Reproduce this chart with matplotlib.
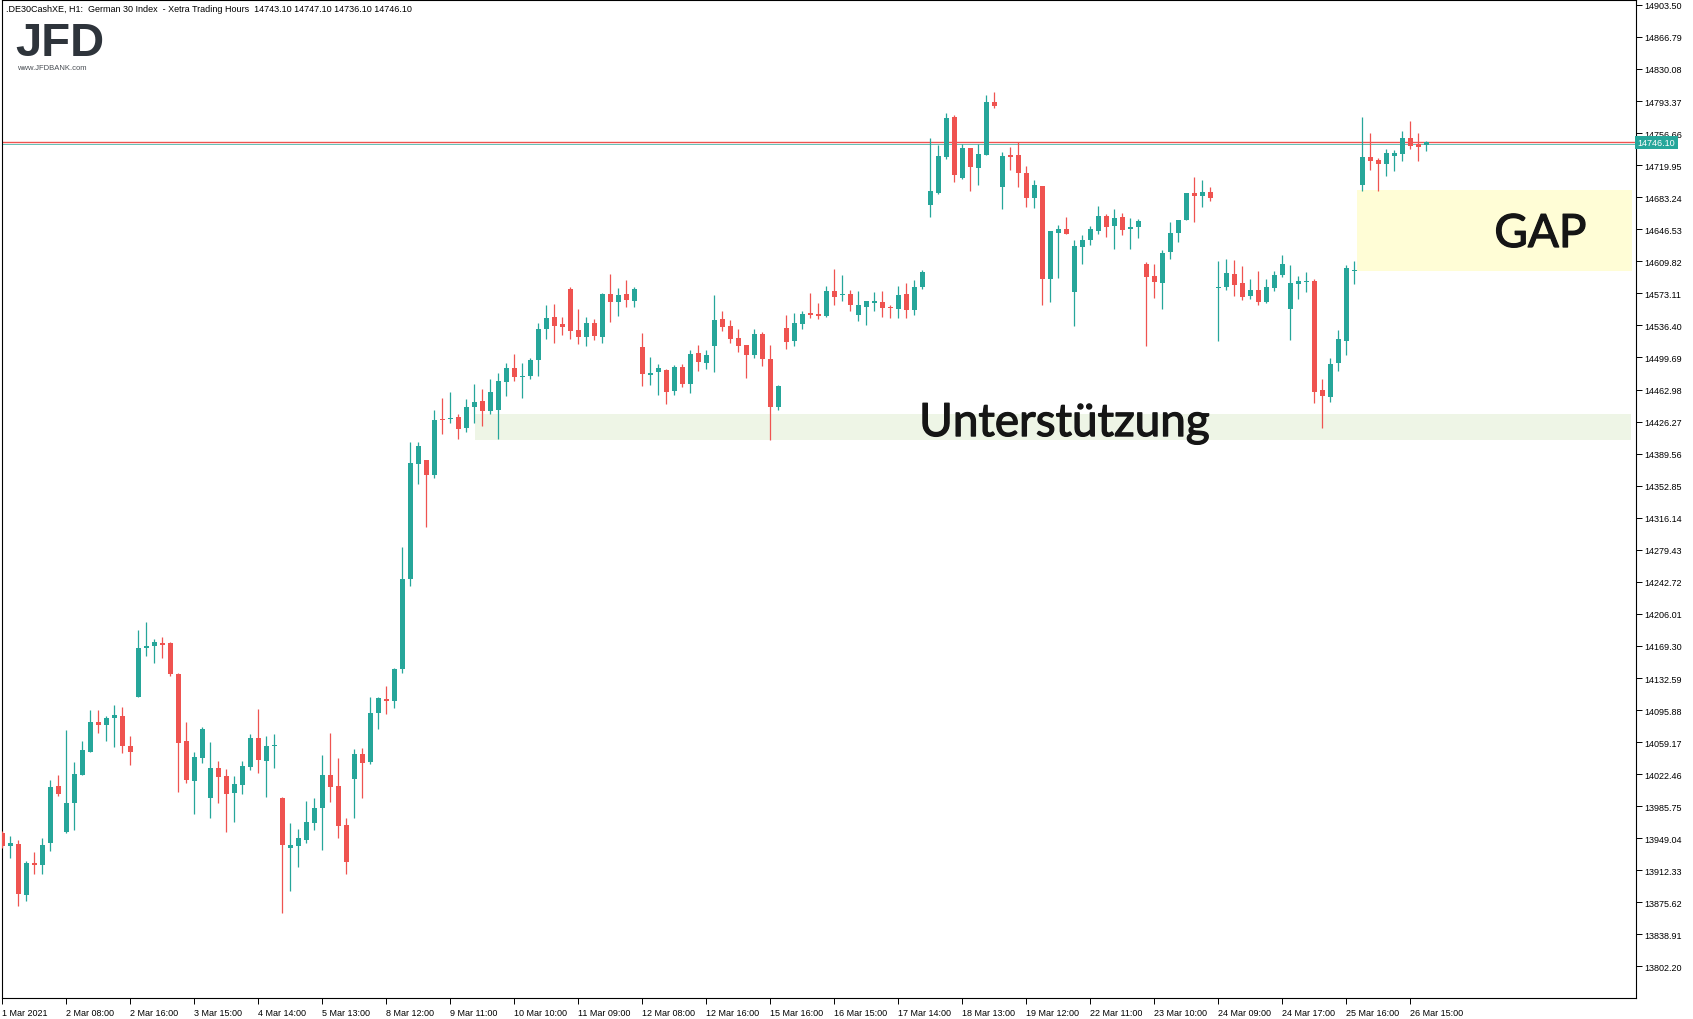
import matplotlib
matplotlib.use("Agg")
from matplotlib import pyplot as plt
from matplotlib import transforms
from matplotlib import patheffects
from matplotlib.patches import Rectangle
import numpy as np

plt.rcParams["font.family"] = ["Liberation Sans", "DejaVu Sans"]

# hourly candles, DE30 1 Mar - 26 Mar 2021
opens = [13955.1, 13940.6, 13942.5, 13884.5, 13920.7, 13918.4, 13943.6, 14008.9, 13956.2, 13989.8,
         14021.5, 14047.8, 14082.2, 14078.8, 14086.8, 14089.1, 14054.7, 14110.8, 14166.9, 14169.2,
         14172.7, 14172.7, 14137.2, 14060.4, 14014.6, 14041.0, 13995.2, 14029.5, 14020.4, 14000.9,
         14010.0, 14030.7, 14063.9, 14037.5, 14054.7, 13995.2, 13937.9, 13940.2, 13947.1, 13966.5,
         13983.7, 14021.5, 14008.9, 13964.2, 14016.9, 14045.5, 14036.4, 14092.5, 14108.1, 14106.6,
         14143.3, 14246.5, 14378.1, 14382.0, 14365.6, 14429.2, 14428.7, 14431.6, 14419.1, 14443.2,
         14450.0, 14438.9, 14439.8, 14472.0, 14487.6, 14477.7, 14478.5, 14497.2, 14532.7, 14546.0,
         14538.0, 14578.1, 14531.1, 14523.5, 14539.2, 14523.5, 14572.4, 14563.6, 14572.4, 14564.7,
         14511.7, 14480.0, 14483.4, 14485.3, 14461.7, 14488.8, 14469.7, 14504.8, 14493.7, 14513.2,
         14543.7, 14535.7, 14522.0, 14514.0, 14502.9, 14526.6, 14497.9, 14443.3, 14533.4, 14518.9,
         14538.4, 14550.6, 14549.5, 14547.6, 14575.8, 14570.8, 14572.4, 14548.7, 14557.9, 14562.4,
         14563.2, 14557.9, 14555.6, 14572.4, 14554.4, 14580.8, 14674.3, 14688.0, 14729.3, 14775.1,
         14705.2, 14739.6, 14716.7, 14731.6, 14792.3, 14694.9, 14731.6, 14731.6, 14711.0, 14682.3,
         14696.1, 14589.6, 14642.2, 14646.8, 14574.7, 14626.2, 14634.2, 14644.5, 14661.7, 14650.3,
         14660.6, 14647.2, 14649.1, 14606.7, 14593.0, 14585.0, 14620.5, 14642.2, 14657.1, 14688.0,
         14685.0, 14689.2, 14579.6, 14580.4, 14595.3, 14585.0, 14570.1, 14577.0, 14563.2, 14579.2,
         14594.1, 14555.2, 14583.8, 14586.5, 14587.3, 14462.4, 14454.4, 14493.3, 14518.5, 14599.1,
         14697.2, 14729.3, 14725.8, 14721.3, 14730.4, 14732.7, 14751.0, 14744.2, 14743.1]
highs = [13957.0, 13951.6, 13947.1, 13922.6, 13933.3, 13949.3, 14015.8, 14021.5, 14073.0, 14036.4,
         14060.4, 14095.9, 14095.9, 14089.1, 14101.7, 14099.4, 14066.2, 14187.6, 14196.7, 14177.2,
         14179.5, 14173.8, 14138.3, 14082.2, 14047.8, 14076.5, 14059.3, 14037.5, 14028.4, 14020.4,
         14037.5, 14068.5, 14097.1, 14066.2, 14068.5, 13996.3, 13966.5, 13959.7, 13991.7, 13995.2,
         14044.4, 14069.6, 14041.0, 13972.3, 14051.3, 14052.4, 14110.8, 14110.8, 14123.5, 14144.2,
         14282.6, 14402.7, 14402.7, 14382.0, 14439.3, 14453.3, 14460.1, 14434.5, 14451.9, 14469.2,
         14463.5, 14475.0, 14481.8, 14493.4, 14503.7, 14493.4, 14499.1, 14539.2, 14559.8, 14560.9,
         14546.0, 14580.4, 14555.2, 14546.0, 14543.7, 14573.5, 14595.3, 14579.2, 14588.4, 14580.4,
         14527.7, 14500.2, 14492.2, 14486.5, 14491.1, 14492.2, 14508.2, 14514.0, 14508.2, 14571.2,
         14552.9, 14542.6, 14532.3, 14514.0, 14532.3, 14528.9, 14514.0, 14468.2, 14548.3, 14550.6,
         14552.9, 14573.5, 14562.1, 14581.5, 14601.0, 14594.1, 14577.0, 14575.8, 14564.4, 14574.7,
         14575.8, 14559.8, 14581.5, 14585.0, 14588.4, 14599.9, 14751.0, 14743.0, 14779.7, 14777.4,
         14744.2, 14739.6, 14744.2, 14800.3, 14803.7, 14735.0, 14740.7, 14746.5, 14719.0, 14702.9,
         14696.1, 14644.5, 14651.4, 14660.6, 14634.2, 14640.0, 14650.3, 14673.2, 14664.0, 14669.7,
         14665.1, 14659.4, 14658.3, 14609.0, 14606.7, 14622.8, 14654.8, 14657.1, 14688.0, 14706.4,
         14702.9, 14694.9, 14610.2, 14612.5, 14611.3, 14604.4, 14589.5, 14598.7, 14589.5, 14598.7,
         14617.0, 14605.6, 14593.0, 14597.6, 14589.5, 14475.0, 14499.1, 14531.1, 14605.6, 14610.2,
         14775.1, 14756.8, 14728.1, 14738.4, 14737.3, 14759.1, 14770.5, 14756.8, 14747.1]
lows = [13938.0, 13926.8, 13871.9, 13877.2, 13908.1, 13908.1, 13934.8, 13997.4, 13955.1, 13958.5,
        14021.5, 14047.8, 14069.6, 14060.4, 14053.6, 14046.7, 14033.0, 14110.8, 14157.8, 14149.8,
        14155.5, 14134.9, 14002.0, 14012.3, 13976.8, 14035.2, 13972.3, 13989.4, 13956.2, 13967.7,
        13999.7, 14027.2, 14023.8, 13996.3, 14029.5, 13863.5, 13888.7, 13916.1, 13943.6, 13958.5,
        13935.6, 13990.6, 13949.3, 13908.1, 13972.3, 13995.2, 14034.1, 14074.2, 14091.7, 14098.4,
        14138.5, 14238.3, 14355.0, 14305.8, 14361.2, 14412.3, 14424.9, 14406.6, 14414.8, 14424.9,
        14421.5, 14435.5, 14406.6, 14455.9, 14473.1, 14453.7, 14475.4, 14478.8, 14521.2, 14516.6,
        14525.8, 14521.2, 14515.5, 14513.2, 14520.1, 14516.6, 14540.7, 14547.6, 14557.9, 14557.9,
        14467.4, 14468.5, 14457.1, 14446.8, 14457.1, 14466.2, 14459.4, 14484.6, 14486.9, 14483.4,
        14530.4, 14516.6, 14506.3, 14476.6, 14499.5, 14490.3, 14405.2, 14439.9, 14509.8, 14513.2,
        14532.7, 14545.3, 14544.1, 14546.4, 14560.2, 14564.7, 14553.3, 14541.8, 14537.3, 14553.3,
        14546.4, 14545.3, 14545.3, 14545.3, 14548.7, 14578.5, 14660.9, 14686.9, 14727.0, 14700.6,
        14704.1, 14690.3, 14697.2, 14731.6, 14785.4, 14669.7, 14714.4, 14694.9, 14672.0, 14670.9,
        14559.8, 14563.2, 14590.7, 14641.1, 14535.7, 14606.7, 14628.5, 14641.1, 14637.7, 14623.9,
        14639.9, 14623.9, 14636.5, 14512.8, 14567.8, 14555.2, 14612.5, 14631.9, 14657.1, 14654.8,
        14672.0, 14678.9, 14518.5, 14577.3, 14570.1, 14565.5, 14566.6, 14559.8, 14562.1, 14575.8,
        14591.8, 14519.7, 14566.6, 14574.7, 14447.5, 14418.9, 14448.7, 14484.2, 14502.5, 14583.8,
        14690.3, 14714.4, 14690.3, 14707.5, 14713.2, 14724.7, 14738.4, 14724.7, 14736.1]
closes = [13940.6, 13943.2, 13885.2, 13920.7, 13918.8, 13941.3, 14007.8, 13999.7, 13989.4, 14022.6,
          14050.1, 14082.2, 14078.8, 14086.8, 14090.2, 14054.7, 14047.8, 14166.9, 14169.2, 14173.8,
          14170.4, 14137.2, 14058.1, 14015.8, 14042.1, 14074.2, 14029.5, 14019.2, 13999.7, 14011.2,
          14031.8, 14063.9, 14038.7, 14054.7, 14055.9, 13941.3, 13941.3, 13949.3, 13967.7, 13983.7,
          14021.5, 14007.8, 13963.1, 13921.9, 14045.5, 14035.2, 14092.5, 14109.7, 14106.6, 14142.8,
          14246.0, 14378.6, 14398.4, 14365.6, 14428.3, 14428.3, 14430.2, 14418.1, 14442.7, 14448.5,
          14438.9, 14460.1, 14472.6, 14487.6, 14477.7, 14478.8, 14496.8, 14532.3, 14544.9, 14536.1,
          14535.0, 14530.4, 14523.5, 14539.2, 14524.7, 14572.4, 14563.6, 14571.2, 14565.9, 14578.1,
          14481.1, 14481.9, 14487.6, 14460.5, 14488.8, 14469.7, 14503.7, 14494.9, 14502.5, 14542.6,
          14535.0, 14521.2, 14513.2, 14502.9, 14526.6, 14498.3, 14443.3, 14467.0, 14517.8, 14539.2,
          14549.5, 14548.7, 14547.6, 14575.8, 14569.3, 14572.4, 14560.2, 14559.8, 14564.4, 14564.4,
          14556.7, 14556.3, 14571.2, 14554.4, 14580.4, 14597.6, 14690.3, 14730.4, 14773.9, 14708.7,
          14739.6, 14717.8, 14732.7, 14792.3, 14787.7, 14730.4, 14729.3, 14711.0, 14682.3, 14697.2,
          14589.6, 14644.5, 14646.8, 14641.1, 14627.4, 14634.2, 14646.8, 14661.7, 14649.1, 14659.4,
          14645.7, 14649.1, 14656.0, 14591.8, 14586.1, 14619.3, 14642.2, 14657.1, 14688.0, 14685.0,
          14689.2, 14682.3, 14580.8, 14596.4, 14582.7, 14568.9, 14577.0, 14563.2, 14580.4, 14594.1,
          14606.7, 14585.0, 14587.3, 14587.3, 14460.1, 14455.6, 14492.2, 14520.8, 14602.1, 14599.9,
          14729.3, 14724.7, 14721.3, 14733.9, 14733.9, 14751.0, 14741.9, 14740.7, 14746.1]

x_labels = ["1 Mar 2021", "2 Mar 08:00", "2 Mar 16:00", "3 Mar 15:00", "4 Mar 14:00", "5 Mar 13:00",
            "8 Mar 12:00", "9 Mar 11:00", "10 Mar 10:00", "11 Mar 09:00", "12 Mar 08:00",
            "12 Mar 16:00", "15 Mar 16:00", "16 Mar 15:00", "17 Mar 14:00", "18 Mar 13:00",
            "19 Mar 12:00", "22 Mar 11:00", "23 Mar 10:00", "24 Mar 09:00", "24 Mar 17:00",
            "25 Mar 16:00", "26 Mar 15:00"]
y_ticks = [14903.50, 14866.79, 14830.08, 14793.37, 14756.66, 14719.95, 14683.24, 14646.53,
           14609.82, 14573.11, 14536.40, 14499.69, 14462.98, 14426.27, 14389.56, 14352.85,
           14316.14, 14279.43, 14242.72, 14206.01, 14169.30, 14132.59, 14095.88, 14059.17,
           14022.46, 13985.75, 13949.04, 13912.33, 13875.62, 13838.91, 13802.20]

support_zone = (14405.2, 14434.9)
gap_zone = (14599.0, 14691.5)
last_price = 14746.10
header = ".DE30CashXE, H1:  German 30 Index  - Xetra Trading Hours  14743.10 14747.10 14736.10 14746.10"

UP = "#26A69A"
DOWN = "#EF5350"

fig = plt.figure(figsize=(16.93, 10.2), dpi=100)
ax = fig.add_axes([2.3 / 1693, 21 / 1020, 1633.7 / 1693, 998 / 1020])

o = np.array(opens)
c = np.array(closes)
x = np.arange(len(o))
cols = np.where(c >= o, UP, DOWN)
body_bottom = np.minimum(o, c)
body_h = np.maximum(np.abs(c - o), 1.3)

ax.vlines(x, lows, highs, colors=cols, linewidth=0.9, zorder=3)
ax.bar(x, body_h, bottom=body_bottom, width=0.62, color=cols, linewidth=0, zorder=4)

# zones
ax.add_patch(Rectangle((59.1, support_zone[0]), 144.5, support_zone[1] - support_zone[0],
                       facecolor="#EEF5E6", edgecolor="none", zorder=1))
ax.add_patch(Rectangle((169.35, gap_zone[0]), 34.4, gap_zone[1] - gap_zone[0],
                       facecolor="#FFFDD6", edgecolor="none", zorder=1))

# price lines (ask red, bid teal)
ax.axhline(last_price - 1.8, color=UP, linewidth=0.5, zorder=2)
ax.axhline(last_price + 0.4, color=DOWN, linewidth=1.0, zorder=2)

thick = [patheffects.withStroke(linewidth=0.9, foreground="#151515")]
ax.text(114.6, 14409.7, "Unterstützung", fontsize=33, family=["Lato", "DejaVu Sans"],
        color="#151515", ha="left", va="baseline", zorder=6, path_effects=thick)
ax.text(186.5, 14626.2, "GAP", fontsize=33, family=["Lato", "DejaVu Sans"],
        color="#151515", ha="left", va="baseline", zorder=6, path_effects=thick)

ax.set_xlim(0, 204.2)
ax.set_ylim(13766.1, 14909.1)

ax.set_xticks(np.arange(0, len(o), 8)[:len(x_labels)])
ax.set_xticklabels(x_labels, fontsize=6.5)
for lbl in ax.get_xticklabels():
    lbl.set_horizontalalignment("left")
ax.yaxis.tick_right()
ax.set_yticks(y_ticks)
ax.set_yticklabels(["%.2f" % v for v in y_ticks], fontsize=6.5)
ax.tick_params(axis="both", direction="out", length=4, width=0.7, color="black", pad=2)
ax.tick_params(axis="x", pad=3)
for s in ax.spines.values():
    s.set_linewidth(0.8)
    s.set_color("black")

trans = transforms.blended_transform_factory(ax.transAxes, ax.transData)
ax.text(1.001, last_price - 0.4, "%.2f" % last_price, transform=trans, fontsize=6.5,
        color="white", ha="left", va="center", zorder=7, clip_on=False,
        bbox=dict(boxstyle="square,pad=0.25", facecolor=UP, edgecolor="none"))

fig.text(6 / 1693, 1 - 9.7 / 1020, header, fontsize=6.5, va="center", ha="left")
fig.text(15 / 1693, 1 - 56.5 / 1020, "JFD", fontsize=34, fontweight="bold",
         color="#2E343B", va="baseline", ha="left")
fig.text(17 / 1693, 1 - 70.5 / 1020, "www.JFDBANK.com", fontsize=5.5, color="#4A4F55",
         va="baseline", ha="left")

fig.savefig("out.png", dpi=100)
